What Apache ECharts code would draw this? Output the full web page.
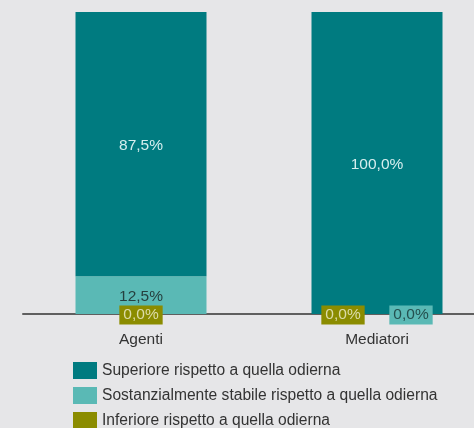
<!DOCTYPE html>
<html><head><meta charset="utf-8">
<style>html,body{margin:0;padding:0;background:#e6e6e8;}#c{width:474px;height:428px;}</style>
<script src="https://cdn.jsdelivr.net/npm/echarts@6/dist/echarts.min.js"></script>
</head><body><div id="c"></div>
<script>
var categories = ['Agenti', 'Mediatori'];
var seriesNames = ['Superiore rispetto a quella odierna', 'Sostanzialmente stabile rispetto a quella odierna', 'Inferiore rispetto a quella odierna'];
var superiore = [87.5, 100.0];
var stabile = [12.5, 0.0];
var inferiore = [0.0, 0.0];

var FONT = '"Liberation Sans", Arial, sans-serif';
var FS = 15.5;
function fmt(p){ return p.value.toFixed(1).replace('.', ',') + '%'; }

var chart = echarts.init(document.getElementById('c'), null, {renderer:'canvas'});
chart.setOption({
  backgroundColor: '#e6e6e8',
  animation: false,
  grid: { left: 23, top: 12, right: -21, bottom: 114, outerBoundsMode: 'none', containLabel: false },
  legend: {
    data: seriesNames,
    orient: 'vertical', left: 73, top: 362, height: 70, padding: 0,
    icon: 'rect',
    itemWidth: 24, itemHeight: 17, itemGap: 8,
    textStyle: { fontFamily: FONT, fontSize: 15.6, color: '#333' }
  },
  xAxis: {
    type: 'category', data: categories,
    axisLine: { lineStyle: { color: '#5f5f5f', width: 2 } },
    axisTick: { show: false },
    axisLabel: { fontFamily: FONT, fontSize: FS, color: '#333', margin: 18 }
  },
  yAxis: { type: 'value', min: 0, max: 100, show: false },
  series: [
    {
      name: seriesNames[2], type: 'bar', stack: 't', barWidth: 131,
      itemStyle: { color: '#8b8c00' },
      data: inferiore.map(function(v, i){ return { value: v, label: { offset: i === 1 ? [-34, 1] : [0, 1] } }; }),
      label: { show: true, position: 'inside', formatter: fmt, fontFamily: FONT, fontSize: FS,
        color: '#dcdca8', backgroundColor: '#8b8c00', padding: [2, 4, 1, 4] }
    },
    {
      name: seriesNames[1], type: 'bar', stack: 't', barWidth: 131,
      itemStyle: { color: '#5ab9b5' },
      data: stabile.map(function(v, i){
        if (i === 1) return { value: v, label: { offset: [34, 1], backgroundColor: '#5ab9b5', padding: [2, 4, 1, 4], color: '#24504f' } };
        return { value: v, label: { offset: [0, 2] } };
      }),
      label: { show: true, position: 'inside', formatter: fmt, fontFamily: FONT, fontSize: FS, color: '#26403f' }
    },
    {
      name: seriesNames[0], type: 'bar', stack: 't', barWidth: 131,
      itemStyle: { color: '#007b80' },
      data: superiore,
      label: { show: true, position: 'inside', offset: [0, 2], formatter: fmt, fontFamily: FONT, fontSize: FS, color: '#d6eeee' }
    }
  ]
});
</script></body></html>
